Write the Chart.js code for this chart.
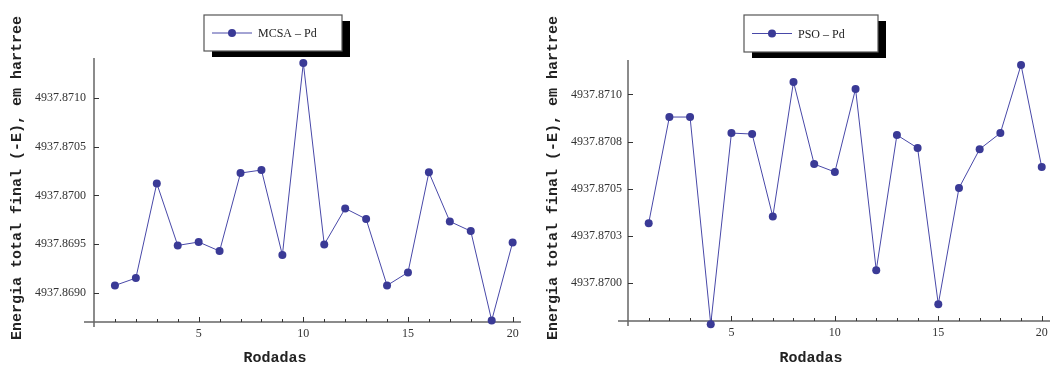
<!DOCTYPE html>
<html>
<head>
<meta charset="utf-8">
<script src="https://cdn.jsdelivr.net/npm/chart.js@4/dist/chart.umd.min.js"></script>
<style>
  html, body { margin: 0; padding: 0; background: #fff; }
  #wrap { position: relative; width: 1058px; height: 369px; }
  canvas { position: absolute; top: 0; }
</style>
</head>
<body>
<div id="wrap">
  <canvas id="mcsa" width="529" height="369" style="left:0"></canvas>
  <canvas id="pso" width="529" height="369" style="left:529px"></canvas>
</div>
<script>
// runs 1..20 and final total energy (-E) for each method, in hartree
const runs = [1, 2, 3, 4, 5, 6, 7, 8, 9, 10, 11, 12, 13, 14, 15, 16, 17, 18, 19, 20]
const mcsaPd = [
  4937.869075, 4937.869151, 4937.870123, 4937.869486, 4937.869521,
  4937.869428, 4937.870229, 4937.870260, 4937.869387, 4937.871359,
  4937.869496, 4937.869866, 4937.869757, 4937.869075, 4937.869209,
  4937.870236, 4937.869732, 4937.869633, 4937.868716, 4937.869517
]
const psoPd = [
  4937.870318, 4937.870880, 4937.870880, 4937.869783, 4937.870795,
  4937.870790, 4937.870353, 4937.871066, 4937.870631, 4937.870589,
  4937.871029, 4937.870069, 4937.870785, 4937.870716, 4937.869889,
  4937.870504, 4937.870710, 4937.870795, 4937.871156, 4937.870615
]
const mcsaTicks = [4937.8690, 4937.8695, 4937.8700, 4937.8705, 4937.8710]
const psoTicks = [4937.8700, 4937.87025, 4937.8705, 4937.87075, 4937.8710]
const xLabels = [5, 10, 15, 20]

const yTitle = 'Energia total final (-E), em hartree'
const xTitle = 'Rodadas'
const markColor = 'rgb(58, 58, 150)'
const lineColor = 'rgb(72, 72, 168)'

// 4937.87075 -> "4937.8708" (half up, like the axis labels)
function energyLabel(v) {
  const n = Math.round((v - 4937) * 1e5)
  return '4937.' + Math.round(n / 10)
}

// axis lines with inward ticks, axis titles and the boxed legend with a shadow
const frame = {
  id: 'frame',
  beforeDatasetsDraw(chart, args, o) {
    const { ctx, chartArea: a, scales: { x, y } } = chart
    ctx.save()
    ctx.strokeStyle = '#666'
    ctx.lineWidth = 1.5
    ctx.beginPath()
    ctx.moveTo(a.left - 10, a.bottom)
    ctx.lineTo(a.right, a.bottom)
    ctx.moveTo(a.left, a.top)
    ctx.lineTo(a.left, a.bottom + 5)
    ctx.stroke()

    ctx.strokeStyle = '#333'
    ctx.lineWidth = 1
    ctx.beginPath()
    x.ticks.forEach(t => {
      const px = Math.round(x.getPixelForValue(t.value)) + 0.5
      const len = t.value % 5 === 0 ? 5 : 3
      ctx.moveTo(px, a.bottom)
      ctx.lineTo(px, a.bottom - len)
    })
    y.ticks.forEach(t => {
      const py = Math.round(y.getPixelForValue(t.value)) + 0.5
      ctx.moveTo(a.left, py)
      ctx.lineTo(a.left + 5, py)
    })
    ctx.stroke()

    ctx.fillStyle = '#222'
    ctx.font = 'bold 15px "Liberation Mono", monospace'
    ctx.textAlign = 'center'
    ctx.textBaseline = 'middle'
    ctx.fillText(xTitle, o.xTitle[0], o.xTitle[1])
    ctx.translate(o.yTitle[0], o.yTitle[1])
    ctx.rotate(-Math.PI / 2)
    ctx.fillText(yTitle, 0, 0)
    ctx.restore()
  },
  afterDraw(chart, args, o) {
    const { ctx } = chart
    const [bx, by, bw, bh] = o.box
    const ds = chart.data.datasets[0]
    ctx.save()
    ctx.fillStyle = '#000'
    ctx.fillRect(bx + 8, by + 6, bw, bh)
    ctx.fillStyle = '#fff'
    ctx.fillRect(bx, by, bw, bh)
    ctx.strokeStyle = '#555'
    ctx.lineWidth = 1.2
    ctx.strokeRect(bx, by, bw, bh)

    const cy = by + bh / 2
    ctx.strokeStyle = lineColor
    ctx.lineWidth = 1
    ctx.beginPath()
    ctx.moveTo(bx + 8, cy)
    ctx.lineTo(bx + 48, cy)
    ctx.stroke()
    ctx.fillStyle = markColor
    ctx.beginPath()
    ctx.arc(bx + 28, cy, 4, 0, Math.PI * 2)
    ctx.fill()

    ctx.fillStyle = '#222'
    ctx.font = '12px "Liberation Serif", serif'
    ctx.textAlign = 'left'
    ctx.textBaseline = 'middle'
    ctx.fillText(ds.label, bx + 54, cy + 1)
    ctx.restore()
  }
}

function makeChart(id, label, values, ticks, yMin, yMax, f) {
  return new Chart(document.getElementById(id), {
    type: 'line',
    data: {
      datasets: [{
        label: label,
        data: runs.map((r, i) => ({ x: r, y: values[i] })),
        borderColor: lineColor,
        borderWidth: 1,
        pointRadius: 4,
        pointBackgroundColor: markColor,
        pointBorderWidth: 0,
        tension: 0,
        clip: false
      }]
    },
    options: {
      responsive: false,
      animation: false,
      layout: { padding: f.padding },
      plugins: {
        legend: { display: false },
        tooltip: { enabled: false },
        frame: f
      },
      scales: {
        x: {
          type: 'linear',
          min: 0,
          max: 20.4,
          grid: { display: false, drawTicks: false },
          border: { display: false },
          afterBuildTicks: s => { s.ticks = runs.map(v => ({ value: v })) },
          afterFit: s => { s.height = 30 },
          ticks: {
            autoSkip: false,
            maxRotation: 0,
            padding: 5,
            color: '#333',
            font: { family: '"Liberation Serif", serif', size: 12 },
            callback: v => xLabels.includes(v) ? String(v) : ''
          }
        },
        y: {
          type: 'linear',
          min: yMin,
          max: yMax,
          grid: { display: false, drawTicks: false },
          border: { display: false },
          afterBuildTicks: s => { s.ticks = ticks.map(v => ({ value: v })) },
          afterFit: s => { s.width = 72 },
          ticks: {
            padding: f.tickPad,
            color: '#333',
            font: { family: '"Liberation Serif", serif', size: 12 },
            callback: v => energyLabel(v)
          }
        }
      }
    },
    plugins: [frame]
  })
}

makeChart('mcsa', 'MCSA \u2013 Pd', mcsaPd, mcsaTicks, 4937.86870, 4937.87141, {
  padding: { left: 22, right: 8, top: 58, bottom: 17 },
  tickPad: 8,
  box: [204, 15, 138, 36],
  xTitle: [275, 358],
  yTitle: [17, 178]
})

makeChart('pso', 'PSO \u2013 Pd', psoPd, psoTicks, 4937.86980, 4937.871182, {
  padding: { left: 27, right: 8, top: 60, bottom: 18 },
  tickPad: 6,
  box: [215, 15, 134, 37],
  xTitle: [282, 358],
  yTitle: [24, 178]
})
</script>
</body>
</html>
